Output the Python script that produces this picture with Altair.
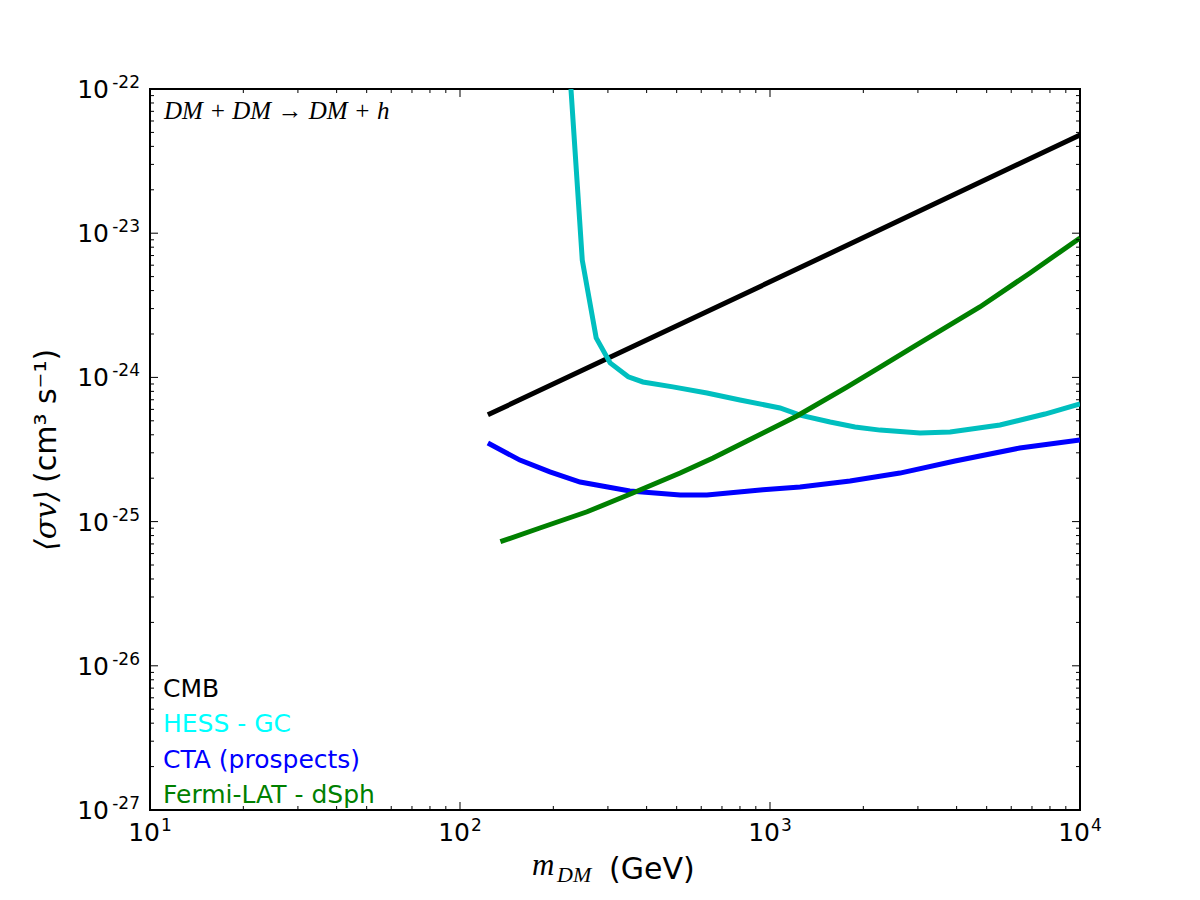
import altair as alt
import pandas as pd

# ---- curve data: dark-matter mass (GeV) and <sigma v> (cm^3 s^-1) ----
mass_cmb = [123, 1000, 10000]
sv_cmb = [5.5e-25, 4.6e-24, 4.8e-23]

mass_hess = [228, 248, 275, 305, 349, 389, 486, 626, 800, 1077, 1250, 1563,
             1880, 2265, 3048, 3811, 5520, 7709, 10000]
sv_hess = [1.0e-22, 6.5e-24, 1.88e-24, 1.26e-24, 1.01e-24, 9.3e-25, 8.6e-25,
           7.8e-25, 6.97e-25, 6.14e-25, 5.48e-25, 4.91e-25, 4.53e-25, 4.31e-25,
           4.11e-25, 4.18e-25, 4.68e-25, 5.57e-25, 6.54e-25]

mass_cta = [123, 156, 195, 244, 353, 513, 626, 949, 1250, 1812, 2625, 3953,
            6393, 10000]
sv_cta = [3.51e-25, 2.67e-25, 2.21e-25, 1.88e-25, 1.63e-25, 1.53e-25, 1.53e-25,
          1.66e-25, 1.74e-25, 1.91e-25, 2.17e-25, 2.63e-25, 3.24e-25, 3.68e-25]

mass_fermi = [135, 181, 257, 361, 513, 655, 843, 1222, 1770, 2265, 2891, 4753,
              6900, 8300, 10000]
sv_fermi = [7.26e-26, 9.03e-26, 1.17e-25, 1.58e-25, 2.17e-25, 2.76e-25,
            3.62e-25, 5.40e-25, 8.57e-25, 1.18e-24, 1.62e-24, 3.08e-24,
            5.30e-24, 7.0e-24, 9.27e-24]

series_names = ["CMB", "HESS - GC", "CTA (prospects)", "Fermi-LAT - dSph"]
line_colors = ["#000000", "#00BFBF", "#0000FF", "#008000"]
legend_colors = ["#000000", "#00FFFF", "#0000FF", "#008000"]

# ---- axes ----
x_ticks = [10, 100, 1000, 10000]
x_tick_exponents = ["1", "2", "3", "4"]
y_ticks = [1e-27, 1e-26, 1e-25, 1e-24, 1e-23, 1e-22]
y_tick_exponents = ["-27", "-26", "-25", "-24", "-23", "-22"]
x_minor = [k * d for d in [10, 100, 1000] for k in range(2, 10)]
y_minor = [k * d for d in y_ticks[:-1] for k in range(2, 10)]

W, H = 930, 721
xs = alt.Scale(type="log", domain=[10, 10000])
ys = alt.Scale(type="log", domain=[1e-27, 1e-22])

layers = []

# curves, drawn one layer per series
curves = [(mass_cmb, sv_cmb), (mass_hess, sv_hess),
          (mass_cta, sv_cta), (mass_fermi, sv_fermi)]
for (m, sv), name, col in zip(curves, series_names, line_colors):
    df = pd.DataFrame({"m": m, "sv": sv, "i": range(len(m))})
    layers.append(
        alt.Chart(df).mark_line(color=col, strokeWidth=5, clip=True).encode(
            x=alt.X("m:Q", scale=xs, axis=None),
            y=alt.Y("sv:Q", scale=ys, axis=None),
            order=alt.Order("i:Q"),
        )
    )

# inward ticks on all four sides
def x_tick_layer(vals, length):
    df = pd.DataFrame({"v": vals})
    base = alt.Chart(df).mark_rule(color="black", strokeWidth=1)
    return [
        base.encode(x=alt.X("v:Q", scale=xs, axis=None),
                    y=alt.value(H), y2=alt.value(H - length)),
        base.encode(x=alt.X("v:Q", scale=xs, axis=None),
                    y=alt.value(0), y2=alt.value(length)),
    ]

def y_tick_layer(vals, length):
    df = pd.DataFrame({"v": vals})
    base = alt.Chart(df).mark_rule(color="black", strokeWidth=1)
    return [
        base.encode(y=alt.Y("v:Q", scale=ys, axis=None),
                    x=alt.value(0), x2=alt.value(length)),
        base.encode(y=alt.Y("v:Q", scale=ys, axis=None),
                    x=alt.value(W), x2=alt.value(W - length)),
    ]

layers += x_tick_layer(x_ticks, 8) + x_tick_layer(x_minor, 4)
layers += y_tick_layer(y_ticks, 8) + y_tick_layer(y_minor, 4)

# tick labels: "10" with a raised exponent
FONT = "DejaVu Sans"
xl = pd.DataFrame({"v": x_ticks, "b": ["10"] * 4, "e": x_tick_exponents})
layers.append(alt.Chart(xl).mark_text(align="right", baseline="alphabetic", dx=10, dy=31,
                                      font=FONT, fontSize=25, color="black").encode(
    x=alt.X("v:Q", scale=xs, axis=None), y=alt.value(H), text="b:N"))
layers.append(alt.Chart(xl).mark_text(align="left", baseline="alphabetic", dx=11, dy=21,
                                      font=FONT, fontSize=17, color="black").encode(
    x=alt.X("v:Q", scale=xs, axis=None), y=alt.value(H), text="e:N"))

yl = pd.DataFrame({"v": y_ticks, "b": ["10"] * 6, "e": y_tick_exponents})
layers.append(alt.Chart(yl).mark_text(align="right", baseline="alphabetic", dy=9,
                                      font=FONT, fontSize=25, color="black").encode(
    y=alt.Y("v:Q", scale=ys, axis=None), x=alt.value(-41), text="b:N"))
layers.append(alt.Chart(yl).mark_text(align="right", baseline="alphabetic", dy=-1,
                                      font=FONT, fontSize=17, color="black").encode(
    y=alt.Y("v:Q", scale=ys, axis=None), x=alt.value(-10), text="e:N"))

# text helper for fixed annotations
def label(text, x, y, size, color="black", font=FONT, style="normal", align="left", angle=0,
          baseline="alphabetic"):
    kw = dict(align=align, baseline=baseline, font=font, fontSize=size,
              fontStyle=style, color=color)
    if angle:
        kw["angle"] = angle
    return alt.Chart(pd.DataFrame({"t": [text]})).mark_text(**kw).encode(
        x=alt.value(x), y=alt.value(y), text="t:N")

# in-plot series labels
for i, (name, col) in enumerate(zip(series_names, legend_colors)):
    layers.append(label(name, 13, 608 + 35.3 * i, 25, color=col))

# process annotation
layers.append(label("DM + DM → DM + h", 14, 30, 25, font="Liberation Serif", style="italic"))

# x axis title
layers.append(label("m", 382, 786, 31, font="Liberation Serif", style="italic"))
layers.append(label("DM", 407, 793, 22, font="Liberation Serif", style="italic"))
layers.append(label("(GeV)", 459, 790, 30))

# y axis title (rotated, reading upwards)
layers.append(label("⟨σv⟩", -103, 462, 30, font="DejaVu Serif", style="italic",
                    angle=270, baseline="middle"))
layers.append(label("(cm³ s⁻¹)", -103, 394, 30, angle=270, baseline="middle"))

chart = alt.layer(*layers).properties(
    width=W, height=H,
    autosize=alt.AutoSizeParams(type="none"),
    padding={"left": 150, "top": 89, "right": 120, "bottom": 90},
    background="white",
).configure_view(stroke="black", strokeWidth=2)

chart.save("out.html", embed_options={"renderer": "svg", "actions": False})
